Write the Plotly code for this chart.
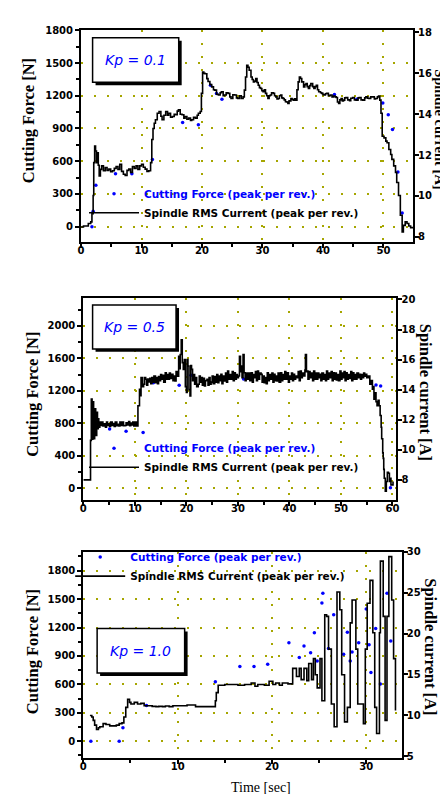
import plotly.graph_objects as go

W, H = 448, 794

# ---------------- Data ----------------
# Kp = 0.1 : spindle RMS current [A] (time [s], current [A])
kp01_current = [
    (0.0, 8.48), (0.4, 8.53), (0.8, 8.53), (1.2, 8.65), (1.6, 8.73), (1.8, 9.13), (2.0, 10.02), (2.1, 11.63),
    (2.25, 12.44), (2.4, 12.2), (2.55, 11.63), (2.7, 12.11), (2.85, 11.5), (3.0, 10.98), (3.2, 11.3), (3.4, 11.47),
    (3.7, 11.23), (4.0, 11.39), (4.3, 11.25), (4.6, 11.31), (4.9, 11.18), (5.2, 11.23), (5.5, 11.35), (5.8, 11.44),
    (6.1, 11.3), (6.4, 11.55), (6.7, 11.2), (7.0, 11.06), (7.3, 11.0), (7.6, 11.25), (7.9, 11.31), (8.2, 11.15),
    (8.5, 11.44), (8.8, 11.35), (9.1, 11.47), (9.4, 11.3), (9.7, 11.47), (10.0, 11.55), (10.3, 11.4), (10.6, 11.31),
    (10.9, 11.2), (11.2, 11.23), (11.5, 11.63), (11.7, 12.76), (11.9, 13.3), (12.1, 13.56), (12.3, 13.73),
    (12.6, 14.05), (12.9, 14.13), (13.2, 13.9), (13.4, 13.73), (13.7, 13.95), (14.0, 14.13), (14.3, 13.95),
    (14.5, 14.05), (14.8, 13.85), (15.1, 13.89), (15.4, 14.0), (15.6, 13.97), (15.9, 14.15), (16.1, 14.21),
    (16.4, 14.0), (16.7, 13.97), (17.0, 13.8), (17.2, 13.89), (17.5, 13.75), (17.8, 13.81), (18.1, 13.7),
    (18.3, 13.73), (18.6, 13.85), (18.9, 13.81), (19.2, 13.95), (19.4, 14.05), (19.7, 14.13), (19.9, 15.02),
    (20.1, 16.06), (20.3, 16.0), (20.5, 15.98), (20.8, 15.74), (21.0, 15.6), (21.3, 15.45), (21.6, 15.34),
    (21.9, 15.2), (22.1, 15.18), (22.4, 14.98), (22.7, 14.94), (23.0, 15.05), (23.2, 15.1), (23.5, 14.9),
    (23.7, 14.94), (24.0, 15.05), (24.3, 15.02), (24.6, 14.85), (24.8, 14.77), (25.1, 14.95), (25.4, 14.94),
    (25.7, 14.8), (25.9, 14.77), (26.2, 14.9), (26.5, 14.77), (26.8, 14.85), (27.0, 15.18), (27.2, 15.82),
    (27.4, 16.39), (27.6, 16.3), (27.8, 16.15), (28.1, 15.82), (28.3, 15.7), (28.5, 15.58), (28.7, 15.62),
    (28.9, 15.74), (29.1, 15.55), (29.3, 15.42), (29.5, 15.3), (29.7, 15.26), (29.9, 15.15), (30.1, 15.1),
    (30.3, 15.2), (30.5, 15.02), (30.7, 14.9), (30.9, 14.77), (31.1, 14.9), (31.3, 14.94), (31.5, 15.05),
    (31.8, 15.02), (32.0, 14.9), (32.2, 14.85), (32.4, 14.75), (32.6, 14.77), (32.8, 14.9), (33.0, 14.94),
    (33.2, 14.8), (33.4, 14.77), (33.6, 14.7), (33.8, 14.61), (34.0, 14.6), (34.2, 14.53), (34.4, 14.65),
    (34.7, 14.77), (34.9, 14.72), (35.1, 14.69), (35.3, 14.75), (35.5, 14.69), (35.7, 15.2), (35.9, 15.58),
    (36.1, 15.82), (36.3, 15.75), (36.5, 15.58), (36.8, 15.34), (37.0, 15.45), (37.2, 15.5), (37.4, 15.35),
    (37.6, 15.26), (37.8, 15.4), (38.0, 15.5), (38.3, 15.35), (38.5, 15.26), (38.7, 15.35), (38.9, 15.42),
    (39.1, 15.2), (39.3, 15.1), (39.6, 15.05), (39.8, 15.02), (40.0, 14.95), (40.2, 14.94), (40.4, 15.0),
    (40.6, 15.02), (40.9, 14.9), (41.2, 14.94), (41.5, 14.85), (41.7, 14.89), (42.0, 14.85), (42.2, 14.82),
    (42.4, 14.6), (42.6, 14.53), (42.8, 14.7), (43.0, 14.77), (43.2, 14.65), (43.4, 14.69), (43.6, 14.8),
    (43.8, 14.82), (44.1, 14.7), (44.4, 14.66), (44.6, 14.78), (44.9, 14.82), (45.2, 14.7), (45.5, 14.69),
    (45.8, 14.8), (46.0, 14.82), (46.3, 14.7), (46.6, 14.69), (46.9, 14.8), (47.1, 14.85), (47.4, 14.78),
    (47.6, 14.77), (47.9, 14.85), (48.2, 14.85), (48.5, 14.75), (48.7, 14.77), (49.0, 14.85), (49.2, 14.89),
    (49.4, 14.69), (49.6, 14.05), (49.8, 12.92), (50.1, 12.84), (50.4, 12.68), (50.6, 12.6), (50.9, 12.27),
    (51.2, 12.03), (51.4, 11.79), (51.7, 11.47), (52.0, 11.15), (52.2, 10.66), (52.5, 10.02), (52.8, 9.05),
    (53.1, 8.24), (53.3, 8.56), (53.6, 8.73), (53.9, 8.65), (54.2, 8.53), (54.5, 8.45), (54.8, 8.40),
]
# Kp = 0.1 : cutting force [N]
kp01_force_t = [1.8, 2.0, 2.45, 5.7, 8.4, 11.8, 16.8, 19.4, 21.4, 22.4, 23.3, 41.9, 45.6, 49.9, 50.8, 51.5, 52.4, 53.1]
kp01_force = [0, 140, 380, 485, 485, 615, 955, 935, 1296, 1220, 1168, 1212, 1168, 1135, 1027, 890, 502, 125]

# Kp = 0.5 : spindle RMS current [A]
kp05_current = [
    (0.0, 8.0), (0.5, 8.0), (1.0, 8.0), (1.3, 8.0), (1.4, 10.63), (1.55, 13.37), (1.7, 10.7), (1.85, 13.2),
    (2.0, 10.74), (2.2, 12.72), (2.4, 10.96), (2.6, 12.5), (2.75, 11.4), (2.9, 12.06), (3.0, 11.51), (3.2, 11.84),
    (3.4, 11.62), (3.6, 11.84), (3.8, 11.58), (4.0, 11.73), (4.3, 11.51), (4.5, 11.84), (4.7, 11.62), (4.9, 11.73),
    (5.1, 11.55), (5.3, 11.84), (5.6, 11.62), (5.8, 11.75), (6.0, 11.55), (6.2, 11.84), (6.5, 11.6), (6.7, 11.7),
    (6.9, 11.58), (7.1, 11.84), (7.3, 11.62), (7.5, 11.84), (7.8, 11.6), (8.1, 11.62), (8.3, 11.8), (8.5, 11.65),
    (8.8, 11.88), (9.0, 11.6), (9.2, 11.78), (9.4, 11.66), (9.6, 11.84), (9.8, 11.58), (10.1, 11.84), (10.3, 11.58),
    (10.6, 12.93), (10.9, 14.03), (11.1, 13.6), (11.2, 14.8), (11.5, 14.2), (11.7, 14.36), (11.9, 14.8),
    (12.1, 14.69), (12.3, 14.3), (12.5, 14.7), (12.7, 14.51), (12.9, 14.75), (13.1, 14.4), (13.3, 14.8),
    (13.5, 14.5), (13.7, 14.9), (14.0, 14.47), (14.2, 14.8), (14.4, 14.4), (14.6, 14.87), (14.8, 14.6),
    (15.0, 15.0), (15.2, 14.69), (15.4, 14.95), (15.6, 14.5), (15.9, 15.13), (16.1, 14.7), (16.3, 15.0),
    (16.5, 14.69), (16.7, 15.1), (16.9, 14.75), (17.2, 15.02), (17.4, 14.6), (17.6, 14.9), (17.8, 14.58),
    (18.0, 15.2), (18.2, 14.9), (18.5, 16.22), (18.7, 15.4), (18.8, 16.34), (19.0, 17.32), (19.2, 15.8),
    (19.4, 15.35), (19.6, 16.0), (19.8, 14.2), (20.0, 13.82), (20.15, 16.0), (20.3, 15.57), (20.5, 14.0),
    (20.7, 13.59), (20.85, 15.6), (21.0, 15.35), (21.2, 14.6), (21.4, 15.0), (21.6, 14.36), (21.8, 14.8),
    (22.0, 14.2), (22.3, 14.36), (22.5, 14.9), (22.7, 14.5), (22.9, 14.8), (23.1, 14.3), (23.3, 14.75),
    (23.5, 14.25), (23.7, 14.6), (24.0, 14.69), (24.2, 14.3), (24.4, 14.8), (24.6, 14.36), (24.8, 14.5),
    (25.0, 14.9), (25.2, 14.4), (25.5, 14.87), (25.7, 14.5), (25.9, 15.0), (26.1, 14.47), (26.3, 14.9),
    (26.5, 14.6), (26.7, 15.02), (26.9, 14.4), (27.1, 14.9), (27.4, 14.58), (27.6, 15.1), (27.8, 14.5),
    (28.0, 15.24), (28.2, 14.7), (28.4, 15.0), (28.7, 14.69), (28.9, 15.2), (29.1, 14.6), (29.3, 15.13),
    (29.5, 14.7), (29.7, 15.0), (29.9, 14.8), (30.1, 14.91), (30.3, 16.22), (30.5, 15.2), (30.6, 15.57),
    (30.8, 14.8), (31.0, 16.34), (31.2, 15.13), (31.4, 14.6), (31.6, 15.1), (31.9, 14.69), (32.1, 15.1),
    (32.3, 14.6), (32.6, 15.13), (32.8, 14.5), (33.0, 15.0), (33.2, 14.8), (33.4, 15.2), (33.6, 14.6),
    (33.8, 15.24), (34.0, 14.7), (34.2, 15.1), (34.5, 15.02), (34.7, 14.5), (34.9, 14.9), (35.1, 14.47),
    (35.3, 14.8), (35.5, 14.4), (35.7, 15.13), (35.9, 14.6), (36.1, 15.0), (36.4, 14.69), (36.6, 15.1),
    (36.8, 14.5), (37.0, 15.02), (37.2, 14.6), (37.4, 14.9), (37.6, 14.58), (37.8, 15.1), (38.0, 14.5),
    (38.3, 15.13), (38.5, 14.6), (38.7, 15.0), (38.9, 14.69), (39.1, 15.2), (39.3, 14.7), (39.6, 15.13),
    (39.8, 14.5), (40.0, 14.9), (40.2, 14.69), (40.4, 15.1), (40.6, 14.6), (40.8, 15.02), (41.0, 14.7),
    (41.2, 14.9), (41.5, 14.8), (41.7, 15.2), (41.9, 14.6), (42.1, 15.24), (42.3, 14.8), (42.5, 15.1),
    (42.8, 14.91), (43.0, 15.3), (43.1, 16.34), (43.3, 15.2), (43.4, 15.24), (43.6, 14.7), (43.8, 15.2),
    (44.0, 14.8), (44.2, 15.1), (44.5, 14.6), (44.7, 15.24), (44.9, 14.7), (45.1, 15.1), (45.3, 14.69),
    (45.5, 15.1), (45.7, 14.8), (45.9, 15.02), (46.1, 14.6), (46.3, 15.1), (46.6, 14.69), (46.8, 15.0),
    (47.0, 14.6), (47.2, 15.24), (47.4, 14.7), (47.6, 15.1), (47.9, 14.8), (48.1, 15.2), (48.3, 14.6),
    (48.5, 15.13), (48.7, 14.7), (48.9, 15.1), (49.1, 14.65), (49.3, 15.0), (49.5, 14.6), (49.8, 15.24),
    (50.0, 14.7), (50.2, 15.1), (50.4, 14.8), (50.6, 15.2), (50.8, 14.6), (51.0, 15.13), (51.2, 14.7),
    (51.4, 15.0), (51.7, 14.74), (51.9, 15.2), (52.1, 14.6), (52.3, 15.13), (52.5, 14.7), (52.7, 15.0),
    (52.9, 14.69), (53.1, 15.1), (53.4, 14.8), (53.6, 15.02), (53.8, 14.7), (54.0, 15.0), (54.2, 14.8),
    (54.4, 15.1), (54.6, 14.9), (54.8, 15.02), (55.0, 14.8), (55.3, 14.91), (55.6, 14.36), (55.9, 14.6),
    (56.1, 14.03), (56.3, 14.2), (56.4, 13.37), (56.6, 13.8), (56.8, 13.2), (57.0, 12.93), (57.2, 13.3),
    (57.4, 12.93), (57.6, 12.28), (57.8, 11.5), (57.9, 10.74), (58.1, 9.8), (58.2, 9.43), (58.3, 8.7),
    (58.4, 8.11), (58.6, 7.24), (58.8, 7.89), (59.0, 8.5), (59.2, 8.44), (59.4, 7.9), (59.5, 8.11),
    (59.7, 7.67), (59.9, 7.67), (60.1, 7.89),
]
# Kp = 0.5 : cutting force [N]
kp05_force_t = [5.1, 8.3, 11.6, 13.6, 18.6, 20.9, 31.1, 56.8, 57.7, 59.6]
kp05_force = [730, 700, 685, 1300, 1268, 1390, 1345, 1270, 1260, 5]

# Kp = 1.0 : spindle RMS current [A]
kp10_current = [
    (0.7, 10.0), (0.9, 9.8), (1.05, 9.4), (1.2, 8.81), (1.4, 8.29), (1.6, 8.5), (1.75, 8.61), (2.1, 9.0),
    (2.4, 8.89), (2.8, 8.73), (3.1, 8.73), (3.5, 8.81), (3.8, 9.0), (4.1, 9.09), (4.3, 9.8), (4.5, 10.99),
    (4.7, 11.98), (4.9, 11.59), (5.05, 11.39), (5.4, 11.59), (5.75, 11.39), (6.1, 11.47), (6.45, 11.19),
    (7.0, 11.19), (7.3, 11.1), (7.7, 11.07), (8.0, 11.1), (8.4, 11.07), (8.7, 11.15), (9.1, 11.07),
    (9.5, 11.19), (9.8, 11.19), (10.5, 11.19), (11.0, 11.27), (11.2, 11.27), (11.9, 11.07), (12.6, 11.07),
    (13.3, 11.07), (13.8, 11.07), (14.0, 11.79), (14.1, 12.78), (14.3, 13.69), (15.0, 13.77), (15.7, 13.77),
    (16.4, 13.69), (17.1, 13.77), (17.8, 13.97), (18.2, 13.57), (18.5, 13.77), (19.2, 13.69), (19.7, 14.17),
    (20.1, 13.77), (20.4, 13.97), (20.8, 13.69), (21.1, 13.97), (21.7, 13.85), (22.0, 13.85), (22.2, 15.75),
    (22.4, 15.75), (22.6, 14.76), (22.9, 15.75), (23.1, 14.37), (23.4, 15.75), (23.7, 14.25), (23.9, 16.35),
    (24.2, 14.37), (24.4, 16.94), (24.6, 14.96), (24.8, 13.37), (25.1, 16.94), (25.3, 11.79), (25.6, 22.3),
    (25.8, 22.1), (26.0, 18.1), (26.3, 11.39), (26.6, 8.61), (26.9, 25.08), (27.2, 22.9), (27.4, 14.96),
    (27.7, 9.21), (28.0, 10.99), (28.3, 21.3), (28.5, 24.1), (28.9, 18.1), (29.1, 11.39), (29.7, 9.0),
    (29.9, 18.1), (30.1, 23.7), (30.4, 26.5), (30.7, 20.1), (30.9, 10.99), (31.1, 7.8), (31.4, 20.1),
    (31.5, 28.85), (31.8, 22.1), (32.0, 9.4), (32.2, 22.1), (32.4, 29.4), (32.7, 24.1), (32.9, 16.94),
    (33.1, 10.6),
]
# Kp = 1.0 : cutting force [N]
kp10_force_t = [0.8, 3.8, 4.2, 6.7, 14.0, 16.6, 18.1, 19.55, 21.8, 22.9, 23.4, 24.1, 24.5, 24.8, 25.3, 25.4,
                26.0, 26.55, 27.6, 28.0, 28.3, 28.5, 29.2, 30.0, 30.3, 30.5, 31.0, 31.5, 32.2, 32.6]
kp10_force = [0, 0, 143, 377, 628, 788, 788, 813, 1040, 883, 1005, 935, 1144, 848, 1458, 1563,
              980, 1336, 917, 1151, 848, 942, 1040, 1395, 1019, 726, 1190, 603, 1563, 1057]

kp_labels = ["Kp = 0.1", "Kp = 0.5", "Kp = 1.0"]
force_name = "Cutting Force (peak per rev.)"
current_name = "Spindle RMS Current (peak per rev.)"
left_title = "Cutting Force [N]"
right_title = "Spindle current [A]"
x_title = "Time [sec]"


def px(x):
    return x / W


def py(y):
    return 1 - y / H


BLUE = "#0000ff"
GRIDC = "#a6a600"
TICKFONT = dict(family="DejaVu Sans", size=10, color="black", weight="bold")

fig = go.Figure()

panels = [
    dict(cur=kp01_current, ft=kp01_force_t, f=kp01_force, xa="x", ya="y", yb="y2", lg="legend"),
    dict(cur=kp05_current, ft=kp05_force_t, f=kp05_force, xa="x2", ya="y3", yb="y4", lg="legend2"),
    dict(cur=kp10_current, ft=kp10_force_t, f=kp10_force, xa="x3", ya="y5", yb="y6", lg="legend3"),
]
for p in panels:
    fig.add_trace(go.Scatter(
        x=p["ft"], y=p["f"], mode="markers", xaxis=p["xa"], yaxis=p["ya"],
        marker=dict(color=BLUE, size=3.5),
        name='<span style="color:#0000ff">' + force_name + "</span>", legend=p["lg"]))
    fig.add_trace(go.Scatter(
        x=[c[0] for c in p["cur"]], y=[c[1] for c in p["cur"]], mode="lines",
        xaxis=p["xa"], yaxis=p["yb"], line=dict(color="black", width=1.6, shape="hv"),
        name=current_name, legend=p["lg"]))


def xax(dom, anchor, rng, dtick, minor):
    return dict(domain=dom, anchor=anchor, range=rng, dtick=dtick, tick0=0,
                ticks="outside", ticklen=4, tickwidth=1.5, tickcolor="black", ticklabelstandoff=-6,
                minor=dict(ticks="outside", ticklen=3, dtick=minor, tick0=0, tickcolor="black"),
                showline=True, linewidth=2, linecolor="black", mirror=True,
                showgrid=True, gridcolor=GRIDC, gridwidth=2, griddash="2px,11px",
                zeroline=False, tickfont=TICKFONT)


def yax(dom, anchor, rng, dtick, minor):
    return dict(domain=dom, anchor=anchor, range=rng, dtick=dtick, tick0=0,
                ticks="outside", ticklen=4, tickwidth=1.5, tickcolor="black",
                minor=dict(ticks="outside", ticklen=3, dtick=minor, tick0=0, tickcolor="black"),
                showline=True, linewidth=2, linecolor="black",
                showgrid=True, gridcolor=GRIDC, gridwidth=2, griddash="2px,11px",
                zeroline=False, tickfont=TICKFONT)


def yrax(over, anchor, rng, dtick):
    return dict(overlaying=over, anchor=anchor, side="right", range=rng, dtick=dtick, tick0=0,
                ticks="outside", ticklen=4, tickwidth=1.5, tickcolor="black", ticklabelstandoff=-3,
                showline=True, linewidth=2, linecolor="black", showgrid=False, zeroline=False,
                tickfont=TICKFONT)


d1x = [px(71), px(407.5)]
d1y = [py(231), py(17)]
d2x = [px(73.3), px(390.7)]
d2y = [py(492.3), py(288.3)]
d3x = [px(73.3), px(396)]
d3y = [py(753), py(544)]

fig.update_layout(
    width=W, height=H, margin=dict(l=0, r=0, t=0, b=0),
    paper_bgcolor="white", plot_bgcolor="white", showlegend=True,
    xaxis=xax(d1x, "y", [0, 54.9], 10, 5),
    yaxis=yax(d1y, "x", [-138, 1805], 300, 150),
    yaxis2=yrax("y", "x", [7.76, 18.13], 2),
    xaxis2=xax(d2x, "y3", [0, 60.77], 10, 5),
    yaxis3=yax(d2y, "x2", [-150, 2338], 400, 200),
    yaxis4=yrax("y3", "x2", [6.64, 20.07], 2),
    xaxis3=xax(d3x, "y5", [0, 33.76], 10, 5),
    yaxis5=yax(d3y, "x3", [-181, 2002], 300, 150),
    yaxis6=yrax("y5", "x3", [4.75, 30.02], 5),
)

LEGFONT = dict(family="DejaVu Sans", size=10.5, color="black", weight="bold")
leg_common = dict(xanchor="left", yanchor="top", bgcolor="rgba(0,0,0,0)", borderwidth=0,
                  font=LEGFONT, tracegroupgap=0, itemwidth=50)
fig.update_layout(
    legend=dict(x=px(74), y=py(168), **leg_common),
    legend2=dict(x=px(74), y=py(425), **leg_common),
    legend3=dict(x=px(60), y=py(535), **leg_common),
)

# Kp boxes with drop shadow
boxes = [
    ((82.7, 25, 170, 70), kp_labels[0]),
    ((82.7, 295, 167.3, 339.3), kp_labels[1]),
    ((87.3, 621.7, 176, 666.7), kp_labels[2]),
]
shapes = []
annotations = []
for (x0, y0, x1, y1), lab in boxes:
    shapes.append(dict(type="rect", xref="paper", yref="paper", x0=px(x0 + 3), x1=px(x1 + 3),
                       y0=py(y1 + 3), y1=py(y0 + 3), fillcolor="black", line=dict(width=0)))
    shapes.append(dict(type="rect", xref="paper", yref="paper", x0=px(x0), x1=px(x1),
                       y0=py(y1), y1=py(y0), fillcolor="white", line=dict(color="black", width=1.5)))
    annotations.append(dict(text=lab, xref="paper", yref="paper", x=px((x0 + x1) / 2), y=py((y0 + y1) / 2),
                            showarrow=False, xanchor="center", yanchor="middle",
                            font=dict(family="DejaVu Sans", size=14, color=BLUE, style="italic")))

TITLEFONT = dict(family="Liberation Serif", size=16.5, color="black", weight="bold")
for (lx, ly, rx, ry, rs) in [(18, 108.5, 434, 117.5, 14.5), (21, 385, 420, 383, 16.5), (22, 645, 425, 640, 16.5)]:
    annotations.append(dict(text=left_title, xref="paper", yref="paper", x=px(lx), y=py(ly),
                            showarrow=False, textangle=-90, xanchor="center", yanchor="middle", font=TITLEFONT))
    annotations.append(dict(text=right_title, xref="paper", yref="paper", x=px(rx), y=py(ry),
                            showarrow=False, textangle=90, xanchor="center", yanchor="middle",
                            font=dict(TITLEFONT, size=rs)))
annotations.append(dict(text=x_title, xref="paper", yref="paper", x=px(253), y=py(782), showarrow=False,
                        xanchor="center", yanchor="middle",
                        font=dict(family="Liberation Serif", size=14, color="black")))

fig.update_layout(shapes=shapes, annotations=annotations)

fig.write_html("out.html")
